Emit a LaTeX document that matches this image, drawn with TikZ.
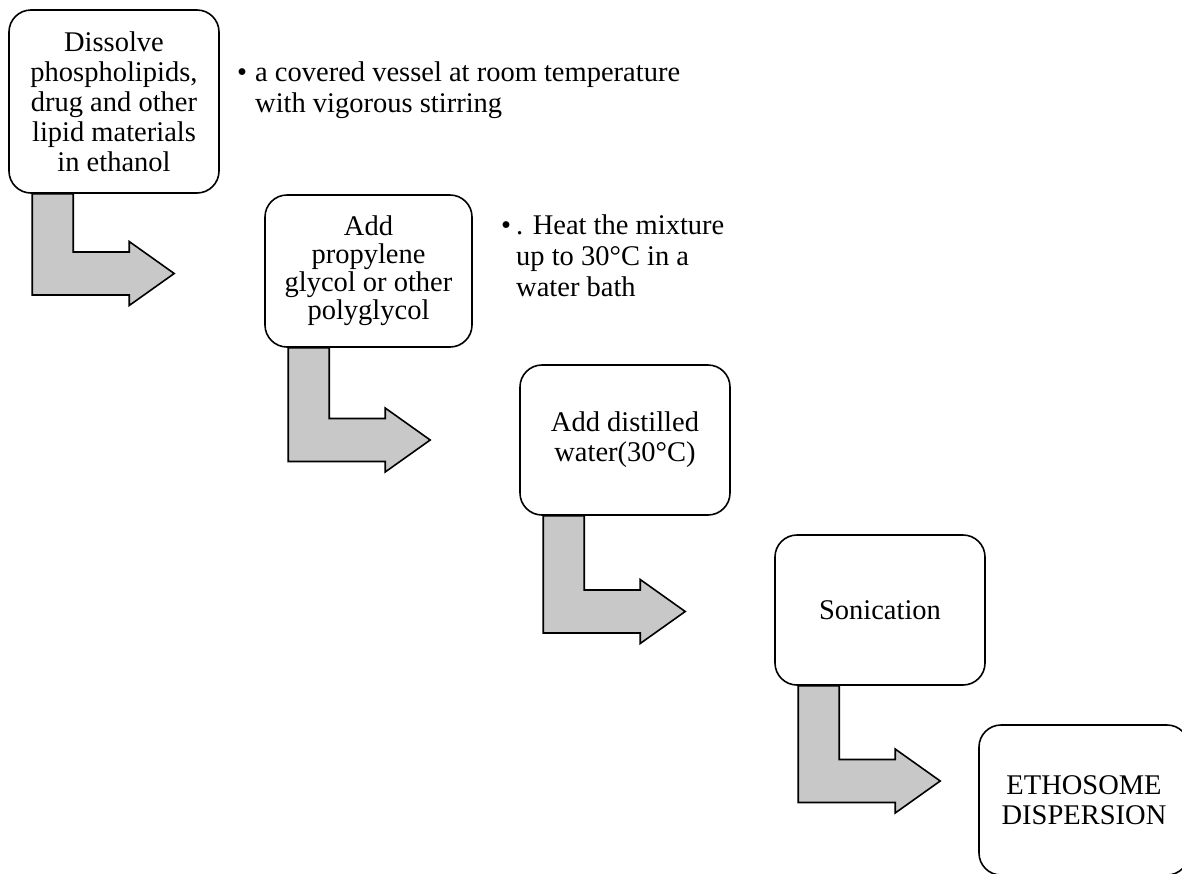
\documentclass[tikz,border=0pt]{standalone}
\usepackage{fontspec}
\setmainfont{Liberation Serif}
\usetikzlibrary{calc,positioning}
\definecolor{arrowgray}{RGB}{200,200,200}

% L-shaped arrow from the foot of one box towards the next one
\newcommand{\bentarrow}[3]{%
  \path [bent] let \p1=($(#1.south west)+(24,0)$), \p2=($(#2.west)+(0,#3)$) in
    (\x1,\y1) -- (\x1+41pt,\y1) -- (\x1+41pt,\y2+21.5pt) -- (\x1+97pt,\y2+21.5pt)
    -- (\x1+97pt,\y2+32pt) -- (\x1+142pt,\y2) -- (\x1+97pt,\y2-32pt)
    -- (\x1+97pt,\y2-21.5pt) -- (\x1,\y2-21.5pt) -- cycle;}

\begin{document}
\begin{tikzpicture}
  [x=1pt,y=-1pt,
   proc/.style={draw=black, fill=white, line width=1.6pt, rounded corners=22pt,
     align=center, inner sep=0pt, minimum width=210pt, minimum height=150pt,
     font=\fontsize{28.5pt}{30pt}\selectfont},
   note/.style={align=left, inner sep=0pt, anchor=west,
     font=\fontsize{28.5pt}{31pt}\selectfont},
   bent/.style={draw=black, fill=arrowgray, line width=1.6pt, line join=miter}]
  \useasboundingbox (0,0) rectangle (1182,873);

  \node [proc, minimum height=183pt] (dissolve) at (114,101.5)
    {Dissolve\\phospholipids,\\drug and other\\lipid materials\\in ethanol};
  \node [proc, minimum width=207pt, minimum height=152pt,
    font=\fontsize{28.5pt}{28pt}\selectfont] (glycol) at (368.5,271)
    {Add\\propylene\\glycol or other\\polyglycol};
  \node [proc] (water) at (625,440) {Add distilled\\water(30\textdegree C)};
  \node [proc] (sonic) at (880,610) {Sonication};
  \node [proc] (disp) at (1084,800) {ETHOSOME\\DISPERSION};

  \node [note] (stir) at (237,90)
    {\makebox[18pt][l]{\textbullet}a covered vessel at room temperature\\
     \hspace*{18pt}with vigorous stirring};
  \node [note] (heat) at (501,256)
    {\makebox[15pt][l]{\textbullet}. Heat the mixture\\
     \hspace*{15pt}up to 30\textdegree C in a\\
     \hspace*{15pt}water bath};

  \bentarrow{dissolve}{glycol}{2.5}
  \bentarrow{glycol}{water}{0}
  \bentarrow{water}{sonic}{1.5}
  \bentarrow{sonic}{disp}{-19}
\end{tikzpicture}
\end{document}
